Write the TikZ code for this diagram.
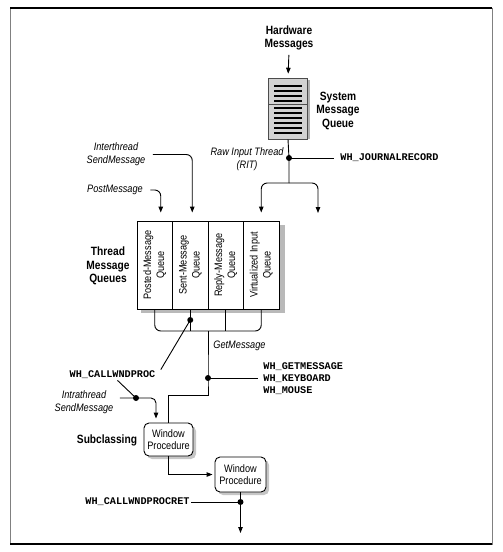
\documentclass[tikz,border=0pt]{standalone}
\usepackage{fontspec}
\setmainfont{Liberation Sans}[FakeStretch=0.85]
\setmonofont{Liberation Mono}
\usetikzlibrary{arrows.meta,shadows}
\begin{document}
\begin{tikzpicture}[x=1pt,y=-1pt,
  line width=0.9pt,
  arr/.style={-{Triangle[length=6pt,width=4.5pt]}},
  lbl/.style={font=\fontsize{10.8}{13}\selectfont, align=center, inner sep=1pt},
  ilbl/.style={font=\fontsize{10.8}{13}\selectfont\itshape, align=center, inner sep=1pt},
  blbl/.style={font=\fontsize{12}{13.5}\selectfont\bfseries, align=center, inner sep=1pt},
  hook/.style={font=\fontsize{10.2}{12}\selectfont\ttfamily\bfseries, align=left, inner sep=1pt},
  dot/.style={circle, fill=black, inner sep=0pt, minimum size=6pt},
  qcol/.style={draw, fill=white, minimum width=35.5pt, minimum height=88pt, inner sep=0pt},
  qtext/.style={rotate=90, font=\fontsize{10.8}{13}\selectfont, align=center, inner sep=0pt},
  wproc/.style={draw, rounded corners=5pt, fill=white, align=center,
    font=\fontsize{10.8}{12}\selectfont, inner sep=0pt,
    drop shadow={shadow xshift=3pt, shadow yshift=-3pt, opacity=0.45}}
]
\useasboundingbox (0,0) rectangle (503,552);
% frame
\draw[gray, line width=0.6pt] (10,8) rectangle (492,544);
\draw[line width=1.2pt] (10,8) -- (492,8);
\draw[line width=1.2pt] (10,544) -- (492,544);

% hardware messages and system queue icon
\node[blbl] (hw) at (289,38) {Hardware\\Messages};
\node[draw=gray!60!black, fill=gray!35, line width=0.6pt, minimum width=39pt, minimum height=61pt, inner sep=0pt] (smq) at (288,108.5) {};
\fill[gray!60] (307.5,80) rectangle (309.5,139);
\foreach \yy in {86,91,96,101,108,113,118,123,128,133}
  \draw[line width=1.8pt] (274,\yy) -- (302,\yy);
\draw[gray!60!black, line width=0.5pt] (268.5,104.5) -- (307.5,104.5);
\node[blbl] (smql) at (338,110.5) {System\\Message\\Queue};
\draw[arr, shorten <=3pt, shorten >=4pt] (hw.south) -- (smq.north);

% raw input thread
\node[dot] (rit) at (289,158) {};
\coordinate (br) at (289,183);
\coordinate (rfree) at (318,213);
\draw (smq.south) -- (rit.center) -- (br);
\node[ilbl, anchor=east] (ritl) at (285,159.5) {Raw Input Thread\\(RIT)};
\node[hook, anchor=west] (jr) at (339,158) {WH\_JOURNALRECORD};
\draw[shorten >=5pt] (rit.center) -- (jr.west);

% queues
\fill[gray!55] (141,225) rectangle (284.5,312.5);
\node[qcol] (q1) at (154.75,265) {};
\node[qcol] (q2) at (190.25,265) {};
\node[qcol] (q3) at (225.75,265) {};
\node[qcol] (q4) at (261.25,265) {};
\node[qtext] (q1t) at (q1) {Posted-Message\\Queue};
\node[qtext] (q2t) at (q2) {Sent-Message\\Queue};
\node[qtext] (q3t) at (q3) {Reply-Message\\Queue};
\node[qtext] (q4t) at (q4) {Virtualized Input\\Queue};
\node[blbl] (tmq) at (108,266) {Thread\\Message\\Queues};

\draw[arr, rounded corners=6pt, shorten >=8pt] (br) -| (q4.north);
\draw[arr, rounded corners=6pt] (br) -| (rfree);

\node[ilbl] (inter) at (116,154.5) {Interthread\\SendMessage};
\draw[arr, rounded corners=6pt, shorten <=6pt, shorten >=8pt] (inter.east) -| ([xshift=2pt]q2.north);
\node[ilbl] (post) at (115,190) {PostMessage};
\draw[arr, rounded corners=6pt, shorten <=6pt, shorten >=8pt] (post.east) -| ([xshift=6pt]q1.north);

% collector
\coordinate (gm) at (208,331);
\draw[rounded corners=6pt] (q1.south) |- (gm) -| (q4.south);
\draw (q2.south) -- (q2.south |- gm);
\draw (q3.south) -- (q3.south |- gm);
\node[dot] (d2) at (190.25,320) {};
\node[ilbl, anchor=west] (gml) at (212,346) {GetMessage};

% window procedure 1
\node[wproc, minimum width=49pt, minimum height=33pt] (wp1) at (168.5,439.5) {Window\\Procedure};
\coordinate (turn) at (208,395);
\node[dot] (gk) at (208,378) {};
\draw (gm) -- (gk.center) -- (turn) -| (wp1.north);
\node[hook, anchor=west] (gmh) at (262,379) {WH\_GETMESSAGE\\WH\_KEYBOARD\\WH\_MOUSE};
\draw[shorten >=4pt] (gk.center) -- (gk -| gmh.west);

\node[hook] (cwp) at (112.5,375) {WH\_CALLWNDPROC};
\draw (d2.center) -- ([xshift=4pt]cwp.north east);
\node[dot] (di) at (136,398) {};
\draw ([xshift=5pt]cwp.south) -- (di.center);
\node[ilbl] (intra) at (84,402) {Intrathread\\SendMessage};
\draw[arr, rounded corners=5pt, shorten <=5pt, shorten >=4pt] (di -| intra.east) -| ([xshift=-12.5pt]wp1.north);

\node[blbl] (sub) at (107,440) {Subclassing};

% window procedure 2
\node[wproc, minimum width=51pt, minimum height=35pt] (wp2) at (240.5,474.5) {Window\\Procedure};
\draw[arr, shorten >=2pt] (wp1.south) |- (wp2.west);

\node[hook, anchor=east] (cwr) at (191,502) {WH\_CALLWNDPROCRET};
\node[dot] (dr) at (240.5,502) {};
\coordinate (out) at (240.5,533);
\draw (cwr.east) -- (dr.center);
\draw[arr] (wp2.south) -- (out);
\end{tikzpicture}
\end{document}
